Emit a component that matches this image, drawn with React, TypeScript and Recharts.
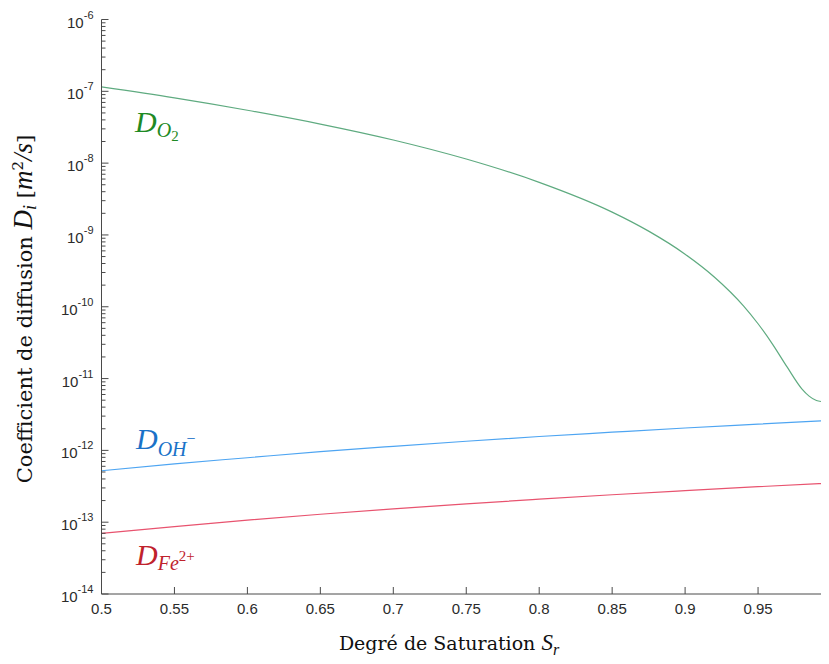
import React from 'react';
import { LineChart, Line, XAxis, YAxis } from 'recharts';

// Degree of saturation (x) and diffusion coefficients (y, m^2/s)
const o2Saturation = [0.5, 0.55, 0.6, 0.65, 0.7, 0.75, 0.8, 0.85, 0.875, 0.9, 0.92, 0.94, 0.95, 0.96, 0.97, 0.98, 0.985, 0.99, 0.995, 1.0];
const o2Diffusion = [1.15e-7, 8.1e-8, 5.45e-8, 3.5e-8, 2.1e-8, 1.14e-8, 5.4e-9, 2.08e-9, 1.13e-9, 5.4e-10, 2.6e-10, 1.03e-10, 5.8e-11, 3.0e-11, 1.44e-11, 7.2e-12, 5.7e-12, 4.95e-12, 4.75e-12, 4.7e-12];

const ionSaturation = [0.5, 0.55, 0.6, 0.65, 0.7, 0.75, 0.8, 0.85, 0.9, 0.95, 1.0];
const ohDiffusion = [5.2e-13, 6.5e-13, 7.9e-13, 9.6e-13, 1.14e-12, 1.34e-12, 1.56e-12, 1.79e-12, 2.05e-12, 2.32e-12, 2.62e-12];
const feDiffusion = [7.0e-14, 8.7e-14, 1.07e-13, 1.29e-13, 1.53e-13, 1.8e-13, 2.09e-13, 2.41e-13, 2.75e-13, 3.12e-13, 3.5e-13];

const xTicks = [0.5, 0.55, 0.6, 0.65, 0.7, 0.75, 0.8, 0.85, 0.9, 0.95, 1];
const xTickLabels = ['0.5', '0.55', '0.6', '0.65', '0.7', '0.75', '0.8', '0.85', '0.9', '0.95', '1'];
const yDecadeExponents = [-14, -13, -12, -11, -10, -9, -8, -7, -6];
const yMinorMultipliers = [2, 3, 4, 5, 6, 7, 8, 9];

const o2Data = o2Saturation.map((s, i) => ({ s, d: o2Diffusion[i] }));
const ohData = ionSaturation.map((s, i) => ({ s, d: ohDiffusion[i] }));
const feData = ionSaturation.map((s, i) => ({ s, d: feDiffusion[i] }));

const yTicks: number[] = [];
yDecadeExponents.forEach((e, idx) => {
  yTicks.push(Math.pow(10, e));
  if (idx < yDecadeExponents.length - 1) {
    yMinorMultipliers.forEach((m) => yTicks.push(m * Math.pow(10, e)));
  }
});

const AXIS = '#4a4a4a';
const TICK_TEXT = '#2b2b2b';
const SANS = '"Liberation Sans", Arial, Helvetica, sans-serif';
const SERIF = '"DejaVu Serif", "Liberation Serif", serif';
const MATH = '"Liberation Serif", "DejaVu Serif", serif';

const YTick = (props: any) => {
  const { x, y, payload } = props;
  const v = payload.value as number;
  const e = Math.round(Math.log10(v));
  const isMajor = Math.abs(v - Math.pow(10, e)) / v < 1e-6;
  return (
    <g>
      <line x1={x} x2={x + (isMajor ? 7 : 4)} y1={y} y2={y} stroke={AXIS} strokeWidth={1} />
      {isMajor && (
        <text x={x - 8} y={y + 8} textAnchor="end" fontSize={15} fill={TICK_TEXT} fontFamily={SANS}>
          10
          <tspan dy={-9} fontSize={11}>{String(e)}</tspan>
        </text>
      )}
    </g>
  );
};

const XTick = (props: any) => {
  const { x, y, payload, index } = props;
  return (
    <g>
      <line x1={x} x2={x} y1={y} y2={y - 7} stroke={AXIS} strokeWidth={1} />
      <text x={x} y={y + 20} textAnchor="middle" fontSize={15} fill={TICK_TEXT} fontFamily={SANS}>
        {xTickLabels[index] ?? String(payload.value)}
      </text>
    </g>
  );
};

export default function App() {
  return (
    <div style={{ position: 'relative', width: 821, height: 650, overflow: 'hidden' }}>
      <LineChart width={830} height={650} margin={{ top: 11.5, right: 7, bottom: 0, left: 0 }}>
        <XAxis
          type="number"
          dataKey="s"
          domain={[0.5, 1]}
          ticks={xTicks}
          interval={0}
          allowDataOverflow
          height={64}
          tickSize={0}
          tickMargin={0}
          tickLine={false}
          tick={<XTick />}
          axisLine={{ stroke: AXIS, strokeWidth: 1 }}
        />
        <YAxis
          type="number"
          dataKey="d"
          scale="log"
          domain={[1e-14, 1e-6]}
          ticks={yTicks}
          interval={0}
          allowDataOverflow
          width={93.5}
          tickSize={0}
          tickMargin={0}
          tickLine={false}
          tick={<YTick />}
          axisLine={{ stroke: AXIS, strokeWidth: 1 }}
        />
        <Line data={o2Data} dataKey="d" type="monotone" stroke="#5fab80" strokeWidth={1.2} dot={false} isAnimationActive={false} />
        <Line data={ohData} dataKey="d" type="monotone" stroke="#4ea5f2" strokeWidth={1.2} dot={false} isAnimationActive={false} />
        <Line data={feData} dataKey="d" type="monotone" stroke="#e8536f" strokeWidth={1.2} dot={false} isAnimationActive={false} />
      </LineChart>
      <svg
        width={821}
        height={650}
        style={{ position: 'absolute', left: 0, top: 0, pointerEvents: 'none' }}
      >
        {/* Series annotations */}
        <text x={127} y={124} fill="#1e8a24" fontFamily={MATH} fontStyle="italic" fontSize={30}>
          D
          <tspan fontSize={20} dy={5}>O</tspan>
          <tspan fontSize={15} dy={4} fontStyle="normal">2</tspan>
        </text>
        <text x={128} y={441} fill="#1a72c8" fontFamily={MATH} fontStyle="italic" fontSize={30}>
          D
          <tspan fontSize={20} dy={7}>OH</tspan>
          <tspan fontSize={16} dy={-12} fontStyle="normal">−</tspan>
        </text>
        <text x={128} y={557} fill="#c0222c" fontFamily={MATH} fontStyle="italic" fontSize={30}>
          D
          <tspan fontSize={20} dy={5}>Fe</tspan>
          <tspan fontSize={15} dy={-9} fontStyle="normal">2+</tspan>
        </text>
        {/* Axis titles */}
        <text x={441} y={642} textAnchor="middle" fill="#111" fontFamily={SERIF} fontSize={19}>
          Degré de Saturation{' '}
          <tspan fontFamily={MATH} fontStyle="italic" fontSize={23}>S</tspan>
          <tspan fontFamily={MATH} fontStyle="italic" fontSize={16} dy={5}>r</tspan>
        </text>
        <text
          x={0}
          y={0}
          transform="translate(24 301) rotate(-90)"
          textAnchor="middle"
          fill="#111"
          fontFamily={SERIF}
          fontSize={21}
        >
          Coefficient de diffusion{' '}
          <tspan fontFamily={MATH} fontStyle="italic" fontSize={27}>D</tspan>
          <tspan fontFamily={MATH} fontStyle="italic" fontSize={18} dy={4}>i</tspan>
          <tspan dy={-4}>{'  ['}</tspan>
          <tspan fontFamily={MATH} fontStyle="italic" fontSize={27}>m</tspan>
          <tspan fontSize={15} dy={-9}>2</tspan>
          <tspan fontFamily={MATH} fontStyle="italic" fontSize={27} dy={9}>/s</tspan>
          <tspan>]</tspan>
        </text>
      </svg>
    </div>
  );
}
